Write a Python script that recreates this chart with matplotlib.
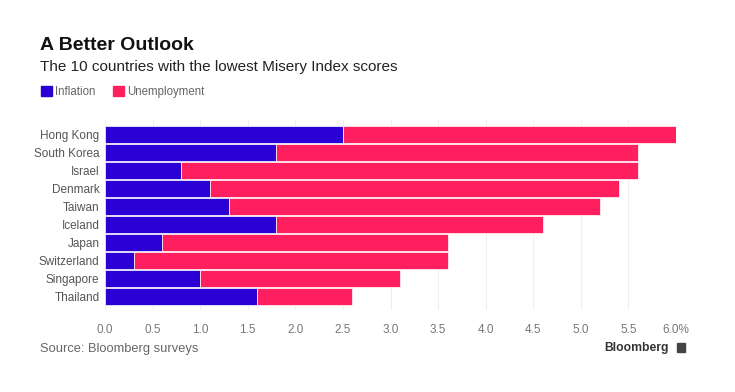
import matplotlib.pyplot as plt
import numpy as np
from matplotlib.patches import Rectangle

countries = ["Hong Kong", "South Korea", "Israel", "Denmark", "Taiwan",
             "Iceland", "Japan", "Switzerland", "Singapore", "Thailand"]
inflation = [2.5, 1.8, 0.8, 1.1, 1.3, 1.8, 0.6, 0.3, 1.0, 1.6]
unemployment = [3.5, 3.8, 4.8, 4.3, 3.9, 2.8, 3.0, 3.3, 2.1, 1.0]
xticks = [0.0, 0.5, 1.0, 1.5, 2.0, 2.5, 3.0, 3.5, 4.0, 4.5, 5.0, 5.5, 6.0]
xticklabels = ["0.0", "0.5", "1.0", "1.5", "2.0", "2.5", "3.0", "3.5",
               "4.0", "4.5", "5.0", "5.5", "6.0%"]

blue = "#2a00d5"
pink = "#ff1f5e"
gray = "#666666"

plt.rcParams['font.family'] = ['Liberation Sans', 'DejaVu Sans']

fig = plt.figure(figsize=(7.35, 3.92), dpi=100)
ax = fig.add_axes([105 / 735, 1 - 310 / 392, 571 / 735, 190 / 392])

y = np.arange(len(countries))
ax.barh(y, inflation, height=0.9, color=blue, edgecolor="white", linewidth=0.5, zorder=2)
ax.barh(y, unemployment, left=inflation, height=0.9, color=pink,
        edgecolor="white", linewidth=0.5, zorder=2)

ax.set_xlim(0, 6.0)
ax.set_ylim(len(countries) - 0.5 + 0.25, -0.5 - 0.3)
ax.set_yticks(y)
ax.set_yticklabels(countries, fontsize=8.5, color="#555555")
ax.set_xticks(xticks)
ax.set_xticklabels(xticklabels, fontsize=8.5, color="#777777")
ax.tick_params(length=0)
ax.tick_params(axis="x", pad=10)
ax.tick_params(axis="y", pad=4)
ax.grid(axis="x", color="#eeeeee", linewidth=0.8, zorder=0)
for s in ax.spines.values():
    s.set_visible(False)

# titles
fig.text(40 / 735, 1 - 50 / 392, "A Better Outlook", fontsize=14, fontweight="bold",
         color="#111111", va="baseline", ha="left")
fig.text(40 / 735, 1 - 67 / 392, "The 10 countries with the lowest Misery Index scores",
         fontsize=11, color="#222222", va="center", ha="left")

# legend
for xpos, label, col in [(41, "Inflation", blue), (113, "Unemployment", pink)]:
    fig.patches.append(Rectangle((xpos / 735, 1 - 96 / 392), 11 / 735, 10 / 392,
                                 transform=fig.transFigure, color=col))
    fig.text((xpos + 14) / 735, 1 - 95 / 392, label, fontsize=8.3, color=gray,
             va="baseline", ha="left")

# footer
fig.text(40 / 735, 1 - 349 / 392, "Source: Bloomberg surveys", fontsize=9.3,
         color=gray, va="center", ha="left")
fig.text(669 / 735, 1 - 348 / 392, "Bloomberg", fontsize=8.7, fontweight="bold",
         color="#333333", va="center", ha="right")
fig.patches.append(Rectangle((677 / 735, 1 - 352 / 392), 8 / 735, 9 / 392,
                             transform=fig.transFigure, color="#444444"))

fig.savefig("out.png", dpi=100)
